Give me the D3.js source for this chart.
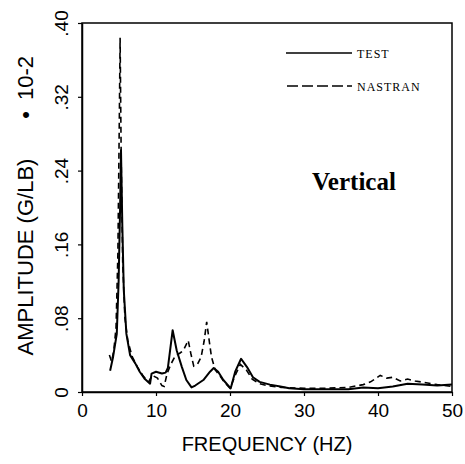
<!DOCTYPE html>
<html><head><meta charset="utf-8">
<script src="https://cdn.jsdelivr.net/npm/d3@7"></script>
<style>html,body{margin:0;padding:0;background:#fff;}svg{display:block;}</style>
</head><body>
<script>
const testFreq = [3.8,4.2,4.7,4.95,5.15,5.27,5.45,5.65,6.0,6.5,7.2,7.8,8.5,9.2,9.4,10.0,10.8,11.3,11.6,12.25,12.8,13.5,14.1,14.8,15.3,16.4,17.3,17.8,18.4,19.1,20.1,20.7,21.5,22.3,23.1,24.0,25.4,26.8,28,30,32,34,36,38,40,42,44,46,48,50];
const testAmp  = [0.023,0.038,0.063,0.12,0.20,0.262,0.18,0.11,0.063,0.040,0.031,0.022,0.014,0.009,0.020,0.022,0.020,0.021,0.026,0.067,0.045,0.027,0.013,0.005,0.007,0.013,0.022,0.026,0.022,0.013,0.004,0.022,0.036,0.027,0.016,0.011,0.008,0.006,0.004,0.003,0.003,0.003,0.003,0.005,0.004,0.006,0.009,0.008,0.007,0.008];
const nastranFreq = [3.7,4.0,4.3,4.6,4.85,5.05,5.15,5.3,5.5,5.8,6.2,6.8,7.5,8.3,9.0,9.5,10.2,10.8,11.1,11.5,12.0,12.6,13.2,13.7,14.35,14.7,15.1,15.6,16.1,16.5,16.85,17.2,17.5,18.0,18.6,19.3,20.0,20.7,21.4,22.2,23,24,25,27,30,33,36,38,39,40.3,41.2,42,43,44,45,46.5,48,50];
const nastranAmp  = [0.040,0.033,0.045,0.07,0.15,0.30,0.384,0.25,0.14,0.08,0.055,0.038,0.027,0.017,0.011,0.018,0.015,0.007,0.006,0.020,0.030,0.039,0.042,0.045,0.056,0.042,0.028,0.030,0.038,0.055,0.076,0.055,0.038,0.024,0.018,0.010,0.004,0.018,0.030,0.024,0.014,0.009,0.007,0.005,0.004,0.004,0.005,0.008,0.011,0.018,0.015,0.016,0.012,0.014,0.012,0.010,0.008,0.006];
const xTicks = [0,10,20,30,40,50];
const xTickLabels = ["0","10","20","30","40","50"];
const yTicks = [0,0.08,0.16,0.24,0.32,0.40];
const yTickLabels = ["0",".08",".16",".24",".32",".40"];
const seriesNames = ["TEST","NASTRAN"];

const W = 465, H = 464;
const svg = d3.select("body").append("svg").attr("width", W).attr("height", H);
const x = d3.scaleLinear().domain([0,50]).range([82,452]);
const y = d3.scaleLinear().domain([0,0.40]).range([392,23]);
const sans = "'Liberation Sans', Arial, sans-serif";
const serif = "'Liberation Serif', 'Times New Roman', serif";

// frame
svg.append("rect").attr("x", x(0)).attr("y", y(0.40)).attr("width", x(50)-x(0)).attr("height", y(0)-y(0.40))
  .attr("fill","none").attr("stroke","#000").attr("stroke-width",1.5);

// x axis
const xAxis = d3.axisBottom(x).tickValues(xTicks).tickFormat((d,i)=>xTickLabels[i]).tickSize(4).tickSizeOuter(0);
const gx = svg.append("g").attr("transform",`translate(0,${y(0)})`).call(xAxis);
gx.select(".domain").attr("stroke-width",1.5);
gx.selectAll(".tick line").attr("stroke-width",1.2);
gx.selectAll(".tick text").attr("font-family",sans).attr("font-size",19).attr("fill","#000").attr("dy",null).attr("y",25);

// y axis
const yAxis = d3.axisLeft(y).tickValues(yTicks).tickFormat((d,i)=>yTickLabels[i]).tickSize(4).tickSizeOuter(0);
const gy = svg.append("g").attr("transform",`translate(${x(0)},0)`).call(yAxis);
gy.select(".domain").attr("stroke-width",1.5);
gy.selectAll(".tick line").attr("stroke-width",1.2);
gy.selectAll(".tick text").attr("font-family",sans).attr("font-size",19).attr("fill","#000")
  .attr("x",null).attr("dy",null).attr("text-anchor","middle")
  .attr("transform","translate(-14,0) rotate(-90)");

// axis labels
svg.append("text").attr("x",267).attr("y",451).attr("text-anchor","middle")
  .attr("font-family",sans).attr("font-size",20).text("FREQUENCY (HZ)");
svg.append("text").attr("transform","translate(33,257) rotate(-90)").attr("text-anchor","middle")
  .attr("font-family",sans).attr("font-size",22).text("AMPLITUDE (G/LB)");
svg.append("text").attr("transform","translate(33,100) rotate(-90)").attr("text-anchor","start")
  .attr("font-family",sans).attr("font-size",22).text("10-2");
svg.append("text").attr("transform","translate(33,115) rotate(-90)").attr("text-anchor","middle")
  .attr("font-family",sans).attr("font-size",22).text("•");

// data lines
const line = d3.line().x(d=>x(d[0])).y(d=>y(d[1]));
const testData = testFreq.map((f,i)=>[f,testAmp[i]]);
const nasData = nastranFreq.map((f,i)=>[f,nastranAmp[i]]);
svg.append("path").datum(nasData).attr("d",line).attr("fill","none").attr("stroke","#000")
  .attr("stroke-width",1.6).attr("stroke-dasharray","6,4");
svg.append("path").datum(testData).attr("d",line).attr("fill","none").attr("stroke","#000")
  .attr("stroke-width",2).attr("stroke-linejoin","round");

// legend
const leg = svg.append("g");
leg.append("line").attr("x1",286).attr("x2",352).attr("y1",53).attr("y2",53).attr("stroke","#000").attr("stroke-width",1.6);
leg.append("line").attr("x1",287).attr("x2",352).attr("y1",86).attr("y2",86).attr("stroke","#000").attr("stroke-width",1.6).attr("stroke-dasharray","11,4");
leg.append("text").attr("x",357).attr("y",58).attr("font-family",serif).attr("font-size",12).attr("letter-spacing",1).text(seriesNames[0]);
leg.append("text").attr("x",357).attr("y",91).attr("font-family",serif).attr("font-size",12).attr("letter-spacing",1).text(seriesNames[1]);

svg.append("text").attr("x",354).attr("y",190).attr("text-anchor","middle")
  .attr("font-family",serif).attr("font-weight","bold").attr("font-size",25).text("Vertical");
</script>
</body></html>
